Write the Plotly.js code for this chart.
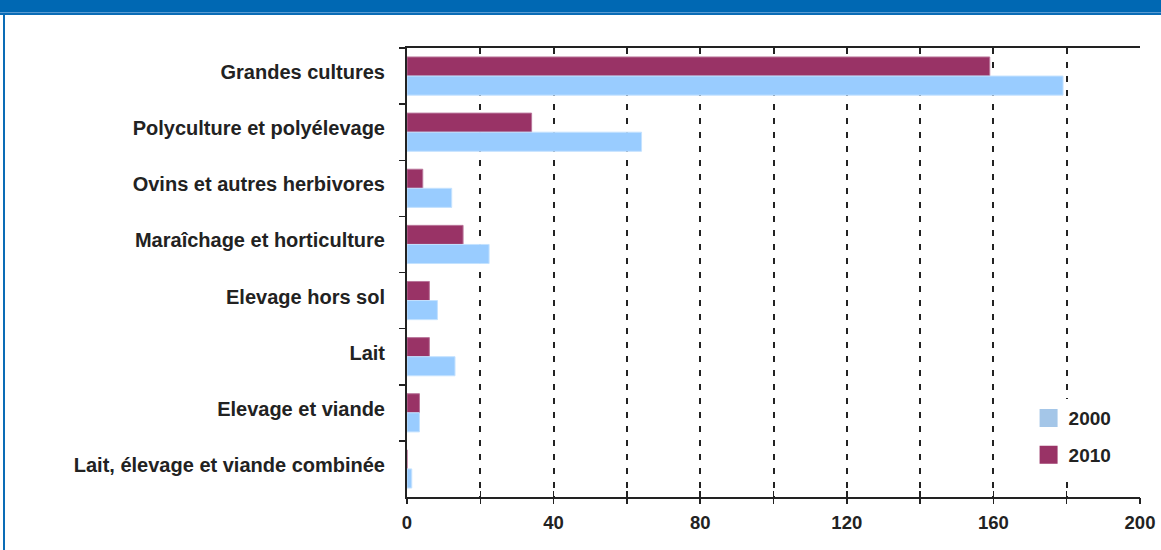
<!DOCTYPE html>
<html>
<head>
<meta charset="utf-8">
<script src="https://cdn.plot.ly/plotly-3.0.1.min.js"></script>
<style>
  html, body { margin: 0; padding: 0; background: #ffffff; }
  #wrap { position: relative; width: 1161px; height: 550px; overflow: hidden; }
  #banner { position: absolute; left: 0; top: 0; width: 1161px; height: 12px; background: #0068b3; }
  #stripe { position: absolute; left: 0; top: 12px; width: 1161px; height: 1px; background: #5b9bd1; }
  #stripe2 { position: absolute; left: 0; top: 13px; width: 1161px; height: 2px; background: #0a6cb6; }
  #leftline { position: absolute; left: 3px; top: 13px; width: 2px; height: 537px; background: #0a6cb6; }
  #chart { position: absolute; left: 0; top: 0; width: 1161px; height: 550px; }
</style>
</head>
<body>
<div id="wrap">
  <div id="banner"></div>
  <div id="stripe"></div>
  <div id="stripe2"></div>
  <div id="leftline"></div>
  <div id="chart"></div>
</div>
<script>
const categories = [
  "Grandes cultures",
  "Polyculture et polyélevage",
  "Ovins et autres herbivores",
  "Maraîchage et horticulture",
  "Elevage hors sol",
  "Lait",
  "Elevage et viande",
  "Lait, élevage et viande combinée"
];
const values2010 = [159, 34, 4.3, 15.3, 6.1, 6.1, 3.4, 0];
const values2000 = [179, 64, 12.2, 22.4, 8.3, 13.1, 3.4, 1.3];
const xTickVals = [0, 20, 40, 60, 80, 100, 120, 140, 160, 180, 200];
const xTickText = ["0", "", "40", "", "80", "", "120", "", "160", "", "200"];

const FAMILY = "Liberation Sans, Arial, sans-serif";
const boldText = s => s === "" ? "" : "<b>" + s + "</b>";

const traces = [
  {
    type: "bar", orientation: "h", name: "2010",
    y: categories, x: values2010,
    marker: { color: "#993366", line: { color: "#b9759a", width: 1 } },
    showlegend: false, hoverinfo: "x+name"
  },
  {
    type: "bar", orientation: "h", name: "2000",
    y: categories, x: values2000,
    marker: { color: "#99ccff", line: { color: "#c4e2ff", width: 1 } },
    showlegend: false, hoverinfo: "x+name"
  },
  {
    type: "scatter", mode: "markers", name: boldText("2000"),
    x: [null], y: [null], legendgroup: "a",
    marker: { symbol: "square", size: 16, color: "#a4c6e8", line: { color: "#a4c6e8", width: 2 } }
  },
  {
    type: "scatter", mode: "markers", name: boldText("2010"),
    x: [null], y: [null], legendgroup: "b",
    marker: { symbol: "square", size: 16, color: "#993366", line: { color: "#993366", width: 2 } }
  },
  {
    type: "scatter", mode: "markers", x: [0], y: [categories[0]], xaxis: "x2",
    marker: { opacity: 0 }, showlegend: false, hoverinfo: "skip"
  }
];

const layout = {
  width: 1161, height: 550,
  margin: { l: 407, r: 21, t: 48, b: 53 },
  paper_bgcolor: "rgba(0,0,0,0)",
  plot_bgcolor: "rgba(0,0,0,0)",
  font: { family: FAMILY, size: 19, color: "#222222" },
  barmode: "group",
  bargap: 0.32,
  bargroupgap: 0,
  showlegend: true,
  legend: {
    x: 0.848, y: 0.218, xanchor: "left", yanchor: "top",
    bgcolor: "#ffffff", borderwidth: 0,
    font: { family: FAMILY, size: 19, color: "#222222" },
    itemwidth: 30, tracegroupgap: 9,
    traceorder: "grouped"
  },
  xaxis: {
    range: [0, 200],
    tickmode: "array", tickvals: xTickVals, ticktext: xTickText.map(boldText),
    tickfont: { family: FAMILY, size: 18.5, color: "#222222" },
    ticks: "inside", ticklen: 6, tickwidth: 1.5, tickcolor: "#222222",
    showline: true, linecolor: "#222222", linewidth: 2, mirror: "ticks",
    showgrid: true, gridcolor: "#222222", gridwidth: 2, griddash: "6px,8px",
    zeroline: false, fixedrange: true,
    ticklabelstandoff: 8
  },
  xaxis2: {
    overlaying: "x", side: "bottom", matches: "x",
    range: [0, 200],
    tickmode: "array", tickvals: xTickVals,
    showticklabels: false,
    ticks: "outside", ticklen: 6, tickwidth: 1.5, tickcolor: "#222222",
    showline: false, showgrid: false, zeroline: false, fixedrange: true
  },
  yaxis: {
    autorange: "reversed",
    type: "category",
    tickson: "boundaries",
    ticks: "outside", ticklen: 6, tickwidth: 1.5, tickcolor: "#222222",
    showline: true, linecolor: "#222222", linewidth: 2, mirror: false,
    showgrid: false, zeroline: false, fixedrange: true,
    ticklabelstandoff: 16,
    ticklabelshift: 4,
    tickfont: { family: FAMILY, size: 20, color: "#222222" },
    tickprefix: "<b>", ticksuffix: "</b>"
  }
};

Plotly.newPlot("chart", traces, layout, { displayModeBar: false, staticPlot: true });
</script>
</body>
</html>
